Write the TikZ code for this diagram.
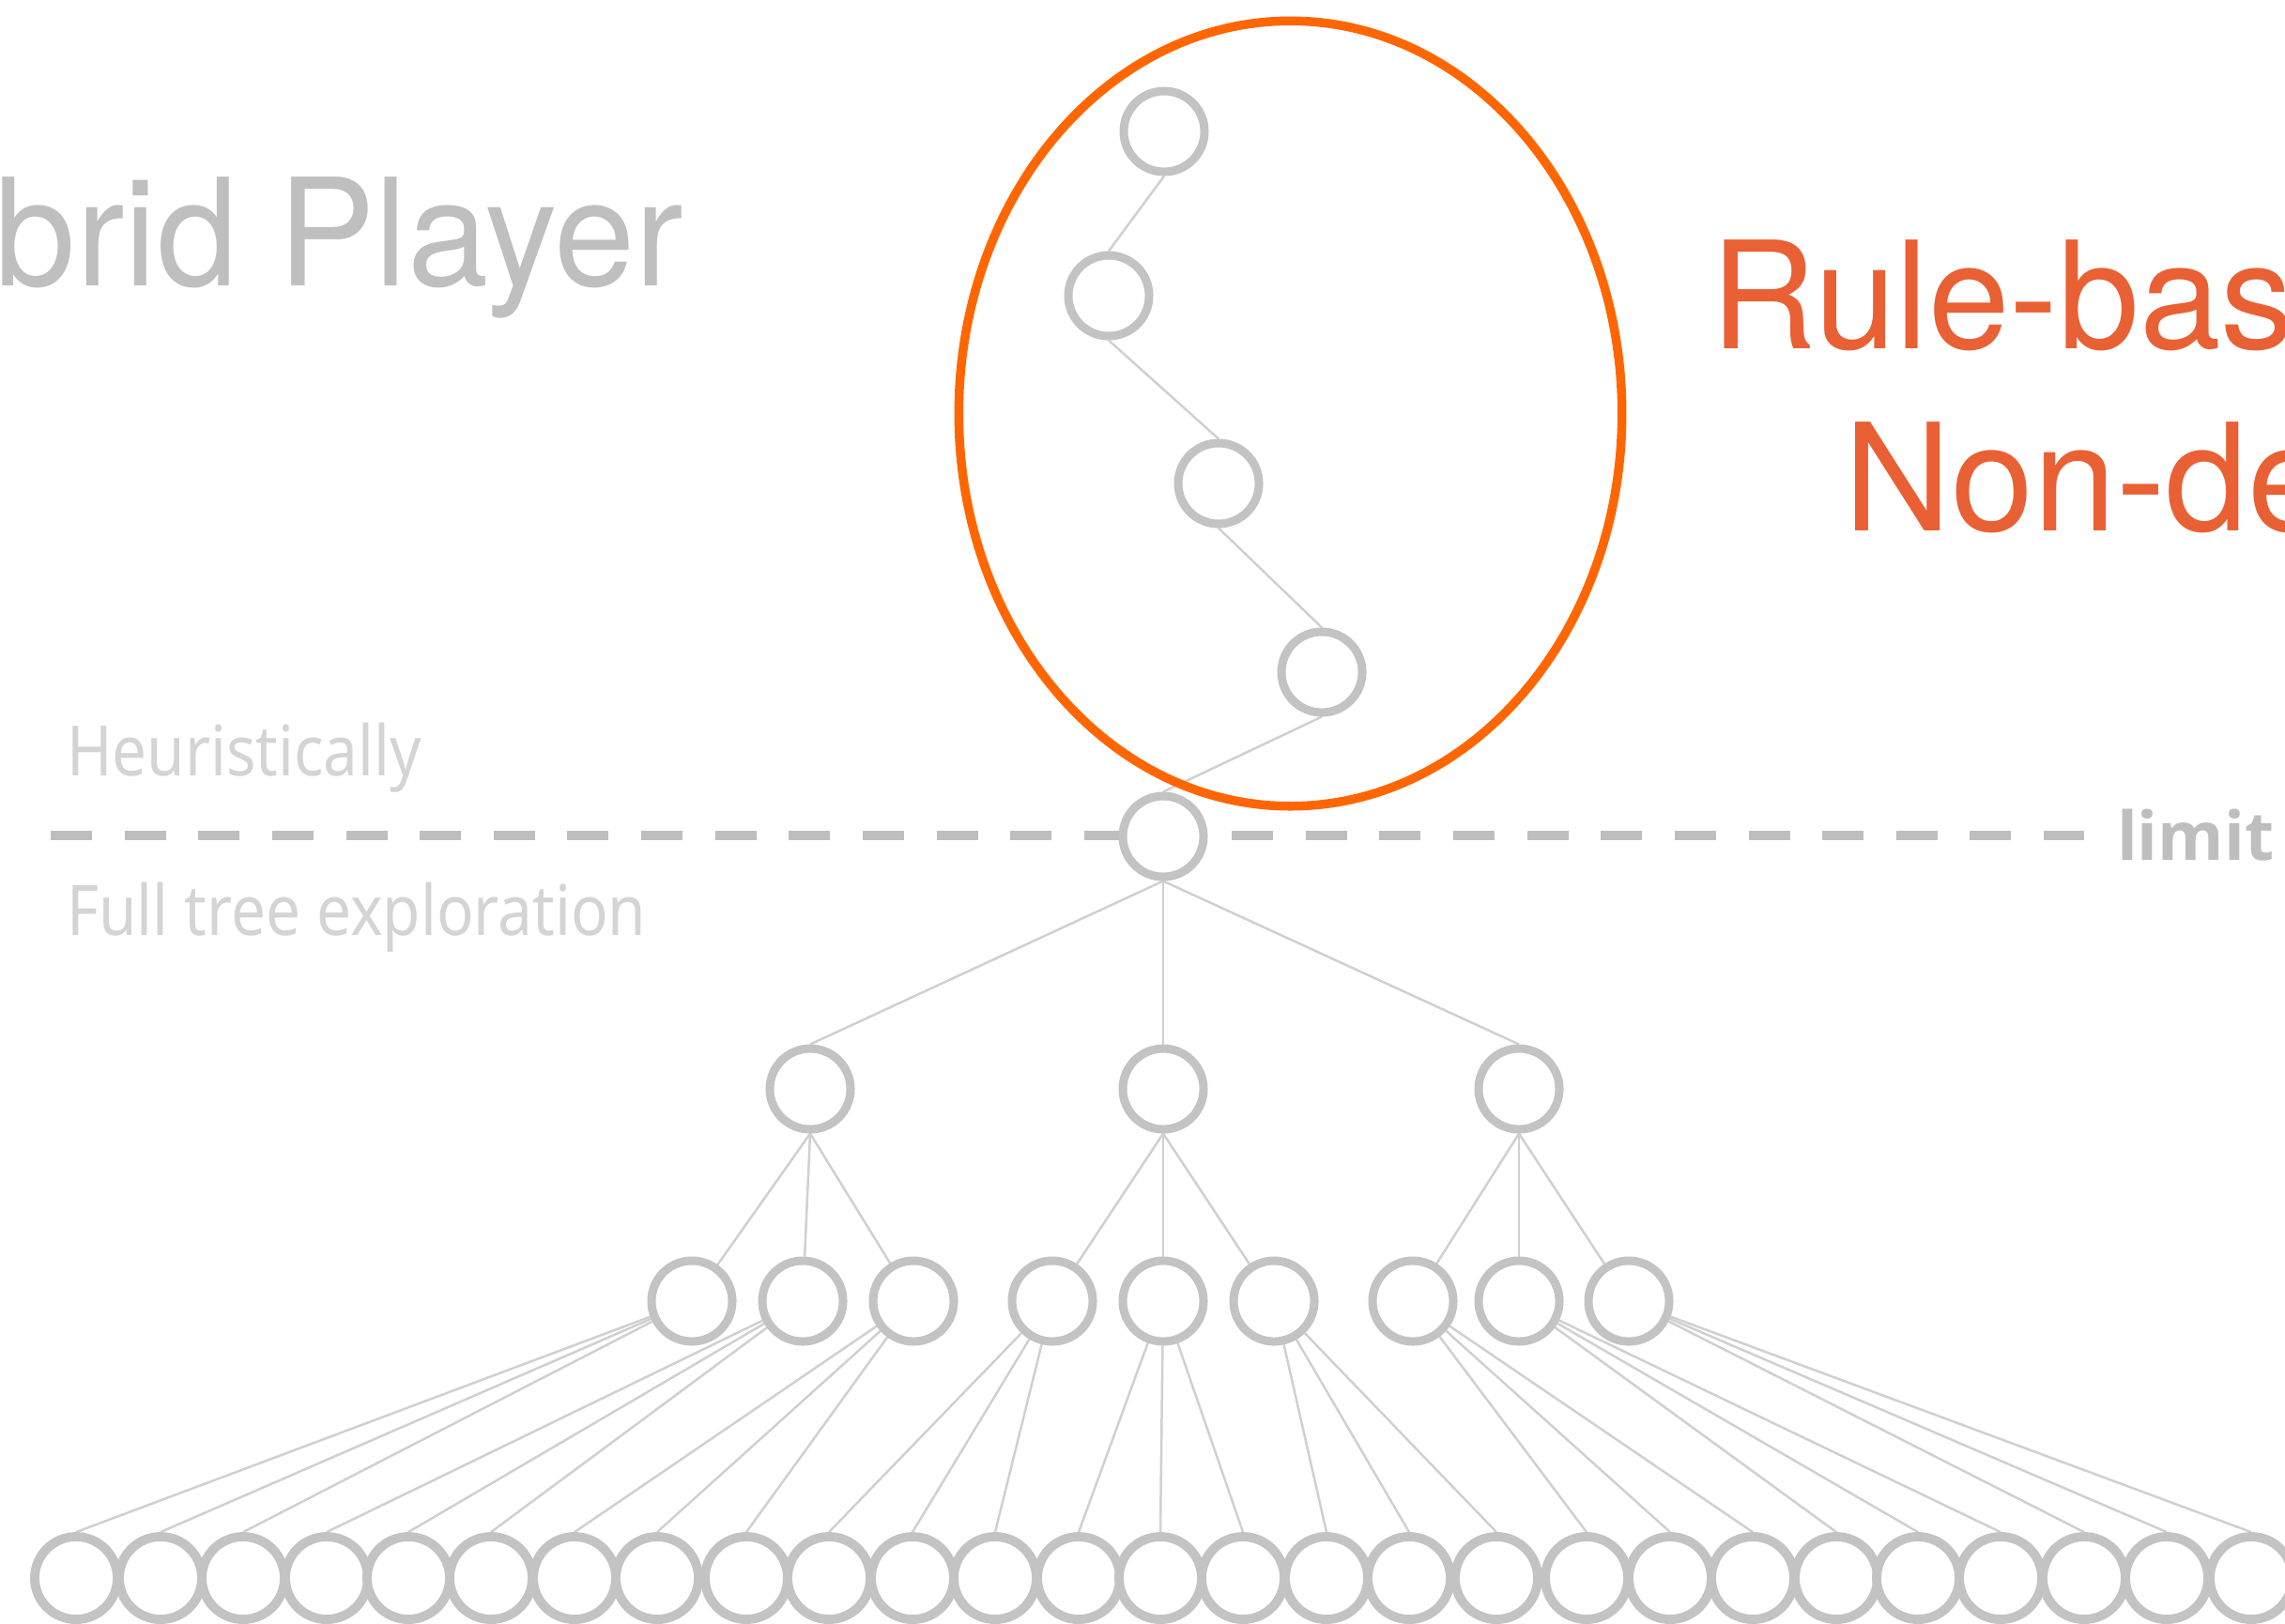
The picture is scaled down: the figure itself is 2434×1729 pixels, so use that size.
\documentclass[tikz,border=0pt]{standalone}
\usepackage{graphicx}
\usepackage{fontspec}
\usetikzlibrary{backgrounds}
\setmainfont{TeX Gyre Heros}
\newfontfamily\notefont{Noto Sans}
\newfontfamily\limitfont{Open Sans}

\definecolor{nodegray}{HTML}{C3C3C3}
\definecolor{edgegray}{HTML}{D0D0D0}
\definecolor{dashgray}{HTML}{BEBEBE}
\definecolor{notegray}{HTML}{D4D4D4}
\definecolor{titlegray}{HTML}{BFBFBF}
\definecolor{rulered}{RGB}{233,96,52}
\definecolor{ringorange}{RGB}{255,102,0}

\begin{document}
\begin{tikzpicture}[x=0.01cm,y=-0.01cm,
  state/.style={circle,draw=nodegray,fill=white,line width=2.56pt,
                minimum size=0.86cm,inner sep=0pt},
  leaf/.style={state,minimum size=0.88cm,line width=2.8pt},
  link/.style={draw=edgegray,line width=0.71pt},
  limitline/.style={draw=dashgray,line width=2.85pt,
                    dash pattern=on 12.52pt off 9.84pt},
  label/.style={anchor=base west,inner sep=0pt,outer sep=0pt},
  bigtext/.style={label,font=\fontsize{45.2pt}{54pt}\selectfont},
  smalltext/.style={label,font=\notefont\fontsize{21.1pt}{25pt}\selectfont,text=notegray}]

\useasboundingbox (0,0) rectangle (2434,1729);
\clip (0,0) rectangle (2434,1729);

% heuristic chain above the limit
\node[state] (c1) at (1240,140) {};
\node[state] (c2) at (1181,315) {};
\node[state] (c3) at (1298,515) {};
\node[state] (c4) at (1408,716) {};
\node[state] (root) at (1239,891) {};

% fully explored levels
\foreach \x [count=\i] in {863,1239,1618}
  \node[state] (a\i) at (\x,1160) {};
\foreach \x [count=\i] in {737,855,973,1121,1239,1357,1505,1618,1735}
  \node[state] (m\i) at (\x,1386) {};
\foreach \x [count=\i] in {81,171,259,348,435,523,612,700,795,883,972,1060,
                           1149,1236,1324,1413,1501,1594,1690,1779,1867,
                           1956,2043,2131,2220,2308,2398}
  \node[leaf] (b\i) at (\x,1681) {};

% depth limit line
\coordinate (lstart) at (54,890);
\coordinate (lend) at (2220,890);

\begin{pgfonlayer}{background}
  \draw[limitline] (lstart) -- (lend);
  \draw[link] (c1.south) -- (c2.north);
  \draw[link] (c2.south) -- (c3.north);
  \draw[link] (c3.south) -- (c4.north);
  \draw[link] (c4.south) -- (root.north);
  \foreach \i in {1,2,3}
    \draw[link] (root.south) -- (a\i.north);
  \foreach \i in {1,2,3}
    \foreach \j in {1,2,3} {
      \pgfmathtruncatemacro\k{3*(\i-1)+\j}
      \draw[link] (a\i.south) -- (m\k);
    }
  \foreach \i in {1,...,9}
    \foreach \j in {1,2,3} {
      \pgfmathtruncatemacro\k{3*(\i-1)+\j}
      \draw[link] (m\i) -- (b\k.north);
    }
\end{pgfonlayer}

% rule-based part of the search
\draw[ringorange,line width=2.7pt] (1374.5,440.5) ellipse [x radius=3.53cm,y radius=4.18cm];

% texts
\node[bigtext,text=titlegray] (title) at (-5,304)
  {\scalebox{0.975}[1]{\llap{Hy}brid Player}};
\node[bigtext,text=rulered] (rule) at (1822,371)
  {\scalebox{0.98}[1]{Rule-based}};
\node[bigtext,text=rulered] (nondet) at (1964,565)
  {\scalebox{0.995}[1]{Non-deterministic}};
\node[smalltext] (heur) at (71,826) {\scalebox{0.885}[1]{Heuristically}};
\node[smalltext] (full) at (71,996) {\scalebox{0.885}[1]{Full tree exploration}};
\node[label,text=dashgray,font=\limitfont\bfseries\fontsize{20.4pt}{24pt}\selectfont]
  (limit) at (2255,916) {limit};
\end{tikzpicture}
\end{document}
